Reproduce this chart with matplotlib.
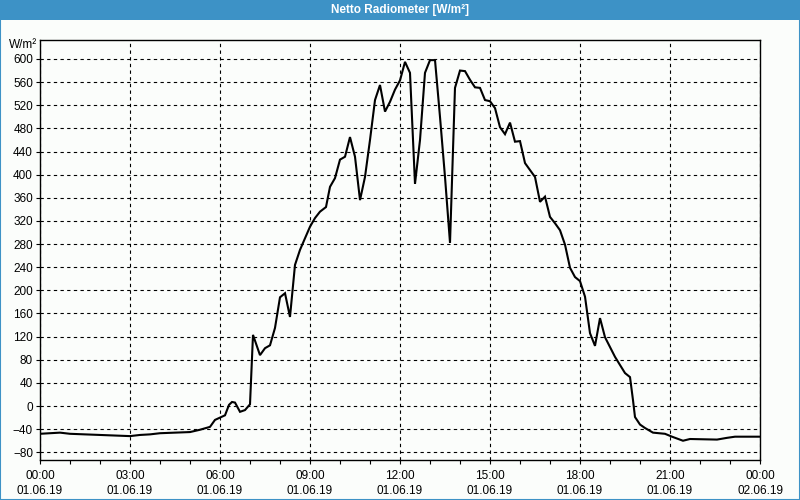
import matplotlib
matplotlib.use('Agg')
import matplotlib.pyplot as plt
from matplotlib.patches import Rectangle
from matplotlib.ticker import MultipleLocator

# ---- data (hours since 01.06.19 00:00, W/m²) ----
hours = [0.0, 0.333, 0.667, 1.0, 1.5, 2.0, 2.5, 3.0, 3.333, 3.667, 4.0, 4.5, 5.0,
         5.333, 5.667, 5.833, 6.0, 6.167, 6.3, 6.4, 6.5, 6.667, 6.833, 7.0, 7.1,
         7.333, 7.5, 7.667, 7.833, 8.0, 8.167, 8.333, 8.5, 8.667, 8.833, 9.0,
         9.167, 9.333, 9.533, 9.667, 9.833, 10.0, 10.167, 10.333, 10.5, 10.667,
         10.833, 11.0, 11.167, 11.333, 11.5, 11.667, 11.833, 12.0, 12.167, 12.333,
         12.5, 12.667, 12.833, 13.0, 13.167, 13.333, 13.5, 13.667, 13.833, 14.0,
         14.167, 14.333, 14.5, 14.667, 14.833, 15.0, 15.167, 15.333, 15.5, 15.667,
         15.833, 16.0, 16.167, 16.333, 16.5, 16.667, 16.833, 17.0, 17.167, 17.333,
         17.5, 17.667, 17.833, 18.0, 18.167, 18.333, 18.5, 18.667, 18.833, 19.0,
         19.167, 19.333, 19.5, 19.667, 19.767, 19.833, 20.0, 20.167, 20.433,
         20.833, 21.067, 21.433, 21.667, 22.567, 22.9, 23.167, 24.0]
values = [-48, -47, -46, -48, -49, -50, -51, -52, -50, -49, -47, -46, -45,
          -41, -36, -24, -20, -16, 2, 7, 6, -10, -7, 3, 123,
          88, 100, 105, 135, 188, 195, 154, 244, 270, 290, 310,
          325, 336, 344, 379, 394, 426, 431, 465, 431, 356,
          396, 460, 529, 555, 509, 526, 547, 563, 595, 576,
          384, 460, 576, 598, 598, 500, 396, 282, 550, 580,
          579, 564, 551, 550, 529, 527, 515, 482, 470, 490,
          457, 458, 420, 408, 396, 353, 362, 327, 316, 304,
          279, 239, 223, 216, 189, 126, 104, 152, 119, 102,
          85, 71, 57, 50, 10, -19, -32, -38, -46,
          -48, -53, -60, -57, -58, -55, -53, -53]

ytick_values = list(range(-80, 601, 40))
xtick_hours = list(range(0, 25, 3))
xtick_labels = [f"{h % 24:02d}:00\n{'02' if h == 24 else '01'}.06.19" for h in xtick_hours]
title = "Netto Radiometer [W/m²]"
unit_label = "W/m²"

blue = '#3d92c6'
bg = '#fbfdfb'

plt.rcParams['font.family'] = ['Liberation Sans', 'DejaVu Sans']

fig = plt.figure(figsize=(8, 5), dpi=100, facecolor=bg)
ax = fig.add_axes([40/800, 1-460/500, 720/800, 420/500])
ax.set_facecolor(bg)

ax.plot(hours, values, color='black', lw=1.5, solid_joinstyle='miter')

ax.set_xlim(0, 24)
ax.set_ylim(-93.3, 632.8)
ax.set_yticks(ytick_values)
ax.set_xticks(xtick_hours)
ax.set_xticklabels(xtick_labels, linespacing=1.35)
ax.xaxis.set_minor_locator(MultipleLocator(1))
ax.tick_params(axis='both', which='both', direction='out', length=3, width=0.8,
               labelsize=8.5, color='black')
ax.tick_params(axis='y', pad=2)
ax.tick_params(axis='x', pad=4)
ax.grid(True, which='major', color='black', linestyle=(0, (3, 3)), linewidth=0.8)
for s in ax.spines.values():
    s.set_linewidth(1.0)
    s.set_color('black')

# title bar
fig.patches.append(Rectangle((0, 1-20/500), 1, 20/500, transform=fig.transFigure,
                             facecolor=blue, edgecolor='none', zorder=0))
fig.text(0.5, 1-10/500, title, color='white', fontsize=8.5, fontweight='bold',
         ha='center', va='center')
# outer border
fig.patches.append(Rectangle((0, 0), 1, 1, transform=fig.transFigure, fill=False,
                             edgecolor=blue, linewidth=1.5, zorder=5))
# unit label
fig.text(37/800, 1-45/500, unit_label, fontsize=8.5, ha='right', va='center')

fig.savefig('out.png', dpi=100, facecolor=bg)
